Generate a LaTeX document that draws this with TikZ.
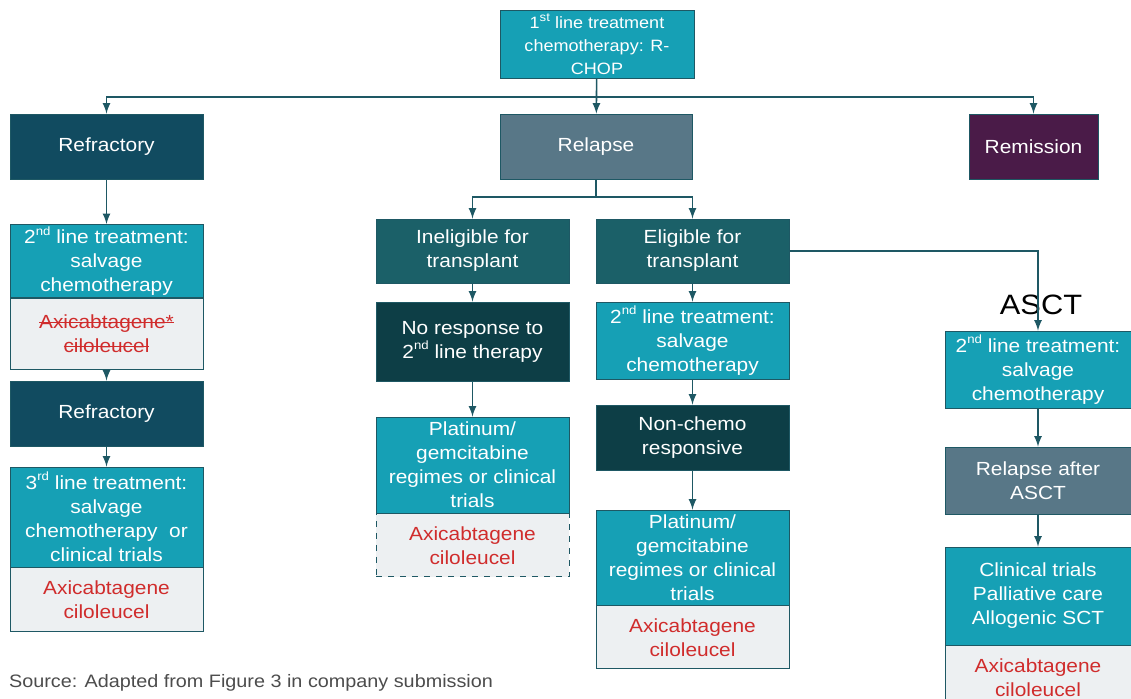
\documentclass[tikz,border=0pt]{standalone}
\usepackage{fontspec}
\setmainfont{Liberation Sans}[FakeStretch=1.1]
\usetikzlibrary{positioning,arrows}
\definecolor{tealbox}{RGB}{22,160,181}
\definecolor{navybox}{RGB}{17,75,96}
\definecolor{slatebox}{RGB}{88,119,135}
\definecolor{plumbox}{RGB}{74,27,72}
\definecolor{pinebox}{RGB}{27,96,104}
\definecolor{deepbox}{RGB}{13,62,70}
\definecolor{greybox}{RGB}{237,240,242}
\definecolor{redtext}{RGB}{208,44,44}
\definecolor{linec}{RGB}{30,88,100}
\newsavebox\strikebox
\newcommand{\crossout}[1]{\sbox\strikebox{#1}\rlap{\usebox\strikebox}\rule[0.3em]{\wd\strikebox}{0.6pt}}
\newcommand{\ordsup}[1]{\raisebox{0.45em}{\fontsize{6}{6}\selectfont #1}}

\begin{document}
\begin{tikzpicture}[
x=0.5pt,y=-0.5pt,
box/.style={
  draw=linec,
  line width=0.4pt,
  text=white,
  align=center,
  inner sep=1pt,
  font=\fontsize{9.5}{12}\selectfont,
  minimum width=96.5pt
},
treat/.style={box,fill=tealbox},
drug/.style={box,fill=greybox,text=redtext},
link/.style={draw=linec,line width=0.8pt},
node distance=0pt
]
\useasboundingbox (0,0) rectangle (1131,699);

% first line
\node[treat,minimum width=97pt,minimum height=34pt,font=\fontsize{8.2}{11.5}\selectfont] at (597,44)
  (first) {1\ordsup{st} line treatment\\chemotherapy: R-\\CHOP};
\coordinate (bus) at (597,97);

\node[box,fill=navybox,minimum height=32.5pt] at (106.5,146.5)
  (ref1) {Refractory};
\node[box,fill=slatebox,minimum width=96pt,minimum height=32.5pt] at (596,146.5)
  (relapse) {Relapse};
\node[box,fill=plumbox,minimum width=64.5pt,minimum height=32.5pt] at (1033.5,146.5)
  (remission) {Remission};

% refractory branch
\node[treat,minimum height=36pt] at (106.5,261)
  (sal1) {2\ordsup{nd} line treatment:\\salvage\\chemotherapy};
\node[drug,minimum height=35.5pt,below=of sal1]
  (axi1) {\crossout{Axicabtagene*}\\\crossout{ciloleucel}};
\node[box,fill=navybox,minimum height=32.5pt] at (106.5,413.5)
  (ref2) {Refractory};
\node[treat,minimum height=50pt] at (106.5,517)
  (third) {3\ordsup{rd} line treatment:\\salvage\\chemotherapy\ \ or\\clinical trials};
\node[drug,minimum height=32pt,below=of third]
  (axi2) {Axicabtagene\\ciloleucel};

% relapse branch
\coordinate (split) at (596,197);
\node[box,fill=pinebox,minimum height=32pt] at (472.5,251)
  (inel) {Ineligible for\\transplant};
\node[box,fill=pinebox,minimum height=32pt] at (692.5,251)
  (elig) {Eligible for\\transplant};

\node[box,fill=deepbox,minimum height=39.5pt] at (472.5,341.5)
  (noresp) {No response to\\2\ordsup{nd} line therapy};
\node[treat,minimum height=48pt] at (472.5,465)
  (plat1) {Platinum/\\gemcitabine\\regimes or clinical\\trials};
\node[drug,dashed,minimum height=31.5pt,below=of plat1]
  (axi3) {Axicabtagene\\ciloleucel};

\node[treat,minimum height=38.5pt] at (692.5,340.5)
  (sal2) {2\ordsup{nd} line treatment:\\salvage\\chemotherapy};
\node[box,fill=deepbox,minimum height=32.5pt] at (692.5,437.5)
  (nonchemo) {Non-chemo\\responsive};
\node[treat,minimum height=47.5pt] at (692.5,557.5)
  (plat2) {Platinum/\\gemcitabine\\regimes or clinical\\trials};
\node[drug,minimum height=31.5pt,below=of plat2]
  (axi4) {Axicabtagene\\ciloleucel};

% transplant branch
\node[font=\fontsize{14}{16}\selectfont] at (1041,305)
  (asct) {ASCT};
\node[treat,minimum width=93pt,minimum height=38.5pt] at (1038,369.5)
  (sal3) {2\ordsup{nd} line treatment:\\salvage\\chemotherapy};
\node[box,fill=slatebox,minimum width=93pt,minimum height=33.5pt] at (1038,480.5)
  (relasct) {Relapse after\\ASCT};
\node[treat,minimum width=93pt,minimum height=49pt] at (1038,596)
  (clin) {Clinical trials\\Palliative care\\Allogenic SCT};
\node[drug,minimum width=93pt,minimum height=32pt,below=of clin]
  (axi5) {Axicabtagene\\ciloleucel};

\node[anchor=west,text=black!70,font=\fontsize{9}{11}\selectfont] at (2,683)
  (source) {Source: Adapted from Figure 3 in company submission};

% connectors
\draw[link,-latex] (first) -- (relapse);
\draw[link,-latex] (bus) -| (ref1.north);
\draw[link,-latex] (bus) -| (remission.north);
\draw[link,-latex] (ref1) -- (sal1);
\draw[link,-latex] (axi1) -- (ref2);
\draw[link,-latex] (ref2) -- (third);

\draw[link] (relapse) -- (split);
\draw[link,-latex] (split) -| (inel.north);
\draw[link,-latex] (split) -| (elig.north);
\draw[link,-latex] (inel) -- (noresp);
\draw[link,-latex] (noresp) -- (plat1);
\draw[link,-latex] (elig) -- (sal2);
\draw[link,-latex] (sal2) -- (nonchemo);
\draw[link,-latex] (nonchemo) -- (plat2);

\draw[link,-latex] (elig.east) -| (sal3.north);
\draw[link,-latex] (sal3) -- (relasct);
\draw[link,-latex] (relasct) -- (clin);

\end{tikzpicture}
\end{document}
